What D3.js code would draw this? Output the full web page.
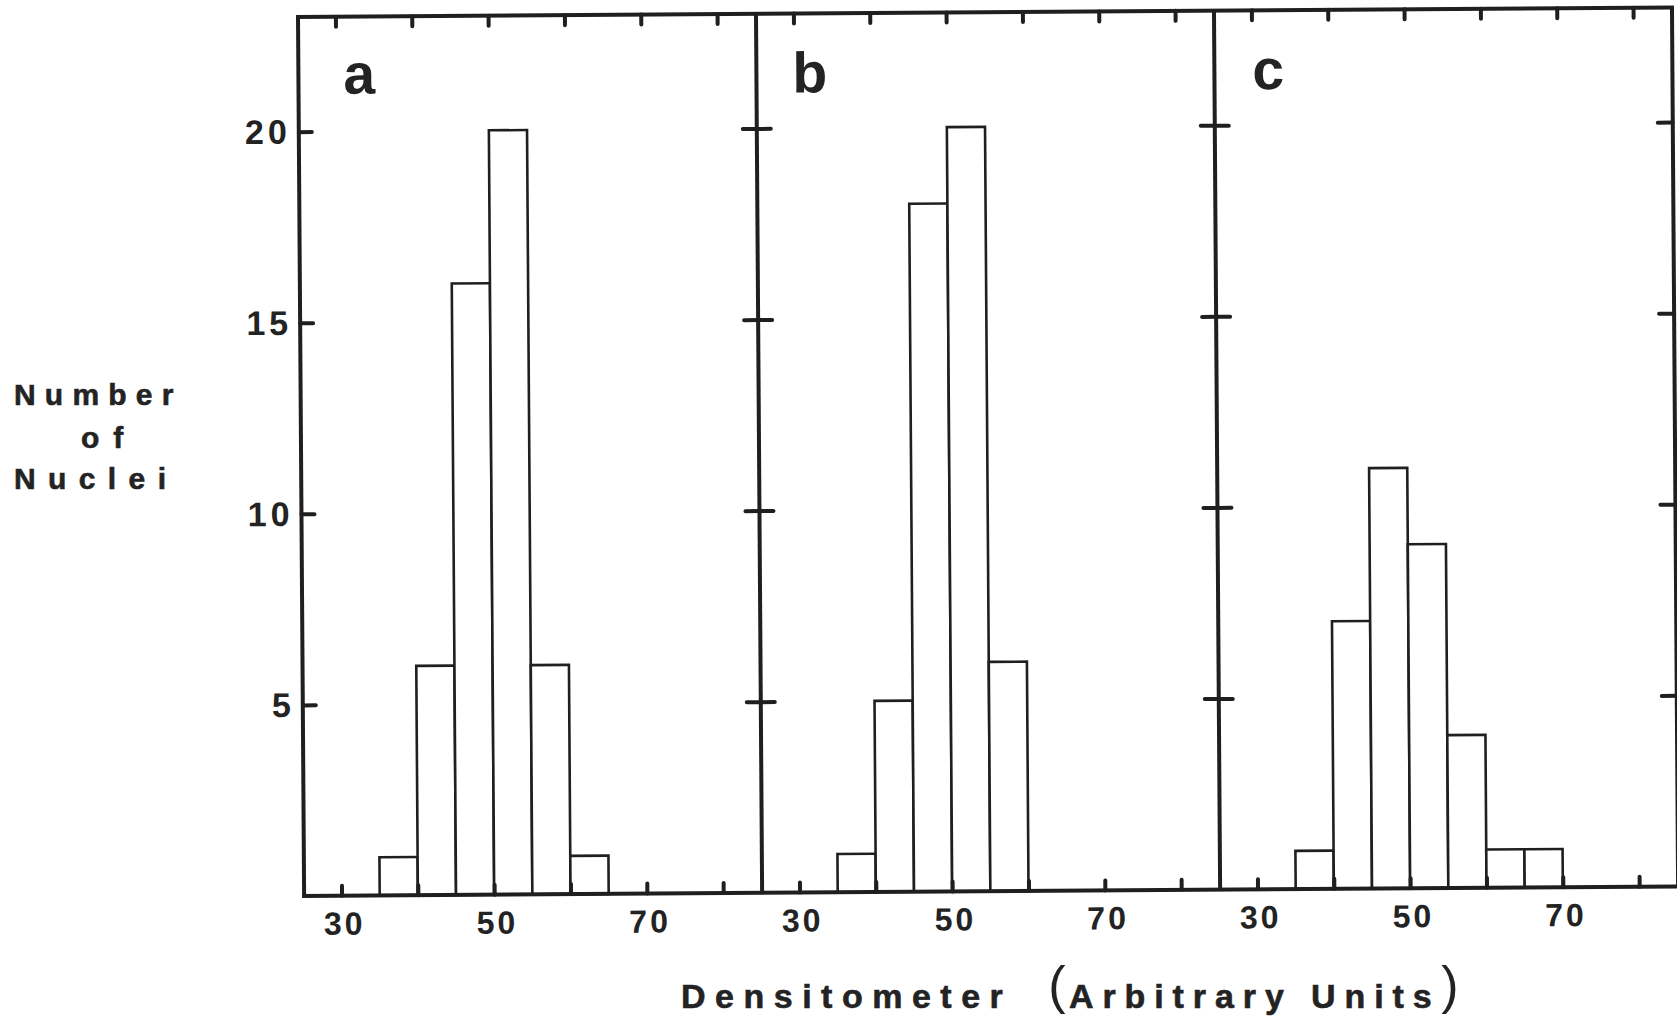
<!DOCTYPE html>
<html>
<head>
<meta charset="utf-8">
<script src="https://cdn.jsdelivr.net/npm/d3@7/dist/d3.min.js"></script>
<style>
  html, body { margin: 0; padding: 0; background: #ffffff; }
  svg { display: block; }
  text { font-family: "Liberation Sans", Arial, Helvetica, sans-serif; fill: #232323; }
</style>
</head>
<body>
<script>
// Histograms of nuclear DNA content, three samples (a, b, c), 5-unit bins
const panelNames = ["a", "b", "c"];
const binWidth = 5;
const binStartsA = [35, 40, 45, 50, 55, 60];
const countsA    = [1, 6, 16, 20, 6, 1];
const binStartsB = [35, 40, 45, 50, 55];
const countsB    = [1, 5, 18, 20, 6];
const binStartsC = [35, 40, 45, 50, 55, 60, 65];
const countsC    = [1, 7, 11, 9, 4, 1, 1];
const xTickValues = [30, 40, 50, 60, 70, 80];
const xTickLabels = [30, 50, 70];
const yTickValues = [5, 10, 15, 20];
const yTickLabels = [5, 10, 15, 20];
const yAxisTitle = ["Number", "of", "Nuclei"];
const xAxisTitle = "Densitometer";
const xAxisUnits = "Arbitrary Units";

const panels = [
  { name: panelNames[0], starts: binStartsA, counts: countsA },
  { name: panelNames[1], starts: binStartsB, counts: countsB },
  { name: panelNames[2], starts: binStartsC, counts: countsC }
];

const width = 1677, height = 1025;
const originX = 298, originY = 17;
const panelW = 458, plotH = 879;
const ink = "#1f1f1f";

const x = d3.scaleLinear().domain([25.1, 85.1]).range([0, panelW]);
const y = d3.scaleLinear().domain([0, 23]).range([plotH, 0]);

const svg = d3.select("body").append("svg")
  .attr("width", width).attr("height", height);

svg.append("rect").attr("width", width).attr("height", height).attr("fill", "#ffffff");

// the whole frame sits very slightly tilted
const g = svg.append("g")
  .attr("transform", `rotate(-0.4 ${originX} ${originY}) translate(${originX},${originY})`);

function styleTicks(sel, w) {
  sel.select(".domain").remove();
  sel.selectAll(".tick line").attr("stroke", ink).attr("stroke-width", w).attr("stroke-linecap", "round");
}

// widely spaced heavy lettering, set glyph by glyph like transfer lettering
function spacedText(parent, str, x0, baseline, size, spacing) {
  const grp = parent.append("g")
    .attr("stroke", "#232323").attr("stroke-width", 0.6)
    .style("font-size", size + "px").style("font-weight", "bold");
  const probe = grp.append("text")
    .attr("x", x0).attr("y", baseline)
    .style("letter-spacing", spacing + "px")
    .text(str);
  const node = probe.node();
  const chars = Array.from(str).map((ch, k) => ({ ch, x: node.getStartPositionOfChar(k).x }));
  probe.remove();
  grp.selectAll("text.glyph")
    .data(chars.filter(d => d.ch !== " "))
    .join("text")
    .attr("class", "glyph")
    .attr("x", d => d.x)
    .attr("y", baseline)
    .text(d => d.ch);
  return grp;
}

// letter offsets inside each panel
const letterPos = [[45, 77], [36, 79], [38, 79]];

panels.forEach((p, i) => {
  const pg = g.append("g").attr("transform", `translate(${i * panelW},0)`);

  // bars
  pg.selectAll("rect.bar")
    .data(p.starts.map((s, k) => ({ s, c: p.counts[k] })))
    .join("rect")
    .attr("class", "bar")
    .attr("x", d => x(d.s))
    .attr("y", d => y(d.c))
    .attr("width", d => x(d.s + binWidth) - x(d.s))
    .attr("height", d => y(0) - y(d.c))
    .attr("fill", "#ffffff")
    .attr("stroke", ink)
    .attr("stroke-width", 2.6);

  // inward ticks along the top edge
  pg.append("g")
    .call(d3.axisTop(x).tickValues(xTickValues).tickSize(-10).tickFormat(""))
    .call(s => styleTicks(s, 4));

  // inward ticks along the bottom edge
  pg.append("g")
    .attr("transform", `translate(0,${plotH})`)
    .call(d3.axisBottom(x).tickValues(xTickValues).tickSize(-10).tickFormat(""))
    .call(s => styleTicks(s, 4));

  // bottom tick labels
  const lab = pg.append("g")
    .attr("transform", `translate(0,${plotH})`)
    .call(d3.axisBottom(x).tickValues(xTickLabels).tickSize(0).tickFormat(d3.format("d")));
  lab.select(".domain").remove();
  lab.selectAll("text")
    .attr("y", 39).attr("dy", 0)
    .attr("dx", 2.5)
    .attr("fill", "#232323")
    .style("font-size", "32px")
    .style("font-weight", "bold")
    .style("letter-spacing", "3px")
    .style("font-family", "'Liberation Sans', Arial, sans-serif");

  // panel letter
  pg.append("text")
    .attr("x", letterPos[i][0]).attr("y", letterPos[i][1])
    .style("font-size", "57px").style("font-weight", "bold")
    .text(p.name);
});

// vertical edges with their y ticks
for (let i = 0; i <= panels.length; i++) {
  const vx = i * panelW;
  if (i > 0) {
    g.append("g").attr("transform", `translate(${vx},0)`)
      .call(d3.axisLeft(y).tickValues(yTickValues).tickSize(i === panels.length ? 15 : 14).tickFormat(""))
      .call(s => styleTicks(s, 4));
  }
  if (i < panels.length) {
    g.append("g").attr("transform", `translate(${vx},0)`)
      .call(d3.axisRight(y).tickValues(yTickValues).tickSize(i === 0 ? 13 : 14).tickFormat(""))
      .call(s => styleTicks(s, 4));
  }
  g.append("line")
    .attr("x1", vx).attr("x2", vx).attr("y1", 0).attr("y2", plotH)
    .attr("stroke", ink).attr("stroke-width", 4);
}

// top and bottom edges
[0, plotH].forEach(yy => {
  g.append("line")
    .attr("x1", -2).attr("x2", panels.length * panelW + 2)
    .attr("y1", yy).attr("y2", yy)
    .attr("stroke", ink).attr("stroke-width", 4);
});

// y tick labels
g.append("g").selectAll("text")
  .data(yTickLabels)
  .join("text")
  .attr("x", -8)
  .attr("y", d => y(d) + 12)
  .attr("text-anchor", "end")
  .style("font-size", "34px").style("font-weight", "bold").style("letter-spacing", "4px")
  .text(d => d);

// y axis title, three stacked lines
const yTitleX = [14, 81, 14];
const yTitleY = [405, 448, 489];
const yTitleSpacing = [9.2, 14, 12.4];
yAxisTitle.forEach((line, k) => {
  spacedText(svg, line, yTitleX[k], yTitleY[k], 30, yTitleSpacing[k]);
});

// x axis title
spacedText(svg, xAxisTitle, 681, 1008, 34, 9.5);
svg.append("text").attr("x", 1057).attr("y", 1003).attr("text-anchor", "middle")
  .style("font-size", "52px").style("font-weight", "normal").text("(");
spacedText(svg, xAxisUnits, 1069, 1008, 34, 8.9);
svg.append("text").attr("x", 1450).attr("y", 1003).attr("text-anchor", "middle")
  .style("font-size", "52px").style("font-weight", "normal").text(")");
</script>
</body>
</html>
